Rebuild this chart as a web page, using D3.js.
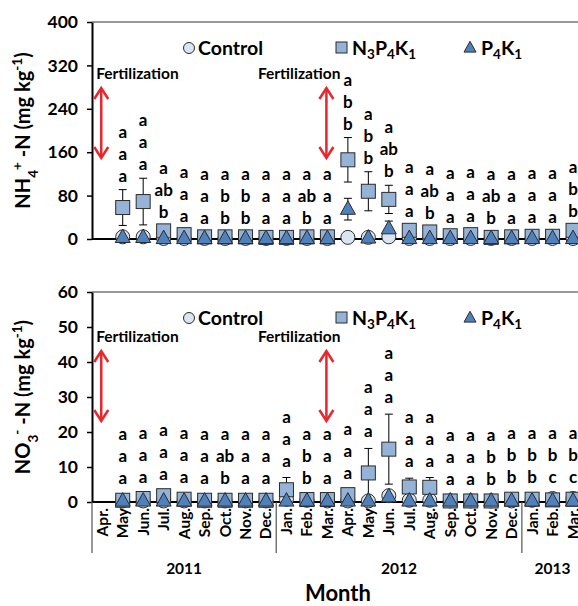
<!DOCTYPE html>
<html>
<head>
<meta charset="utf-8">
<script src="https://cdn.jsdelivr.net/npm/d3@7"></script>
<style>
  body { margin: 0; background: #fff; }
  text { font-family: Lato, "Open Sans", sans-serif; font-weight: 700; fill: #000; }
</style>
</head>
<body>
<svg width="578" height="606"></svg>
<script>
// Months from Apr. 2011 to Mar. 2013
const months = ["Apr.", "May", "Jun.", "Jul.", "Aug.", "Sep.", "Oct.", "Nov.", "Dec.",
  "Jan.", "Feb.", "Mar.", "Apr.", "May", "Jun.", "Jul.", "Aug.", "Sep.", "Oct.", "Nov.", "Dec.",
  "Jan.", "Feb.", "Mar."];
const years = ["2011", "2012", "2013"];
const yearFirst = [0, 9, 21];
const yearLast = [8, 20, 23];
const fertMonths = [0, 11];

// NH4+-N (mg/kg)
const nh4Control = [null, 4, 4, 1, 1, 1, 1, 1, 1, 1, 1, 1, 3, 3, 4, 1, 1, 1, 1, 1, 1, 1, 1, 1];
const nh4N = [null, 58, 69, 15, 8, 4, 4, 4, 3, 3, 4, 4, 146, 88, 73, 16, 13, 6, 8, 3, 4, 5, 5, 16];
const nh4NErr = [null, 33, 43, 0, 0, 0, 0, 0, 0, 0, 0, 0, 41, 36, 26, 0, 0, 0, 0, 0, 0, 0, 0, 0];
const nh4P = [null, 3, 3, 1, 1, 1, 1, 1, 1, 1, 1, 1, 55, 2, 19, 1, 1, 1, 1, 1, 1, 1, 1, 1];
const nh4PErr = [null, 0, 0, 0, 0, 0, 0, 0, 0, 0, 0, 0, 20, 0, 14, 0, 0, 0, 0, 0, 0, 0, 0, 0];
const nh4Letters = ["", "a a a", "a a a", "a ab b", "a a a", "a a a", "a b b", "a b b", "a a a",
  "a a a", "a ab b", "a a a", "a b b", "a b b", "a ab b", "a a a", "a ab b", "a a a", "a a a",
  "a ab b", "a a a", "a a a", "a a a", "a b b"];

// NO3--N (mg/kg)
const no3Control = [null, 0.3, 0.3, 0.3, 0.3, 0.3, 0.3, 0.3, 0.3, 0.8, 0.5, 0.3, 0.3, 0.3, 1.8, 0.5, 0.5, 0.3, 0.3, 0.3, 0.3, 0.5, 1.0, 1.0];
const no3N = [null, 0.5, 1, 1.8, 0.8, 0.5, 0.5, 0.5, 0.5, 3.5, 0.7, 0.7, 2.1, 8.3, 15.1, 4.3, 4.2, 0.3, 0.3, 0.3, 0.8, 0.8, 0.6, 0.8];
const no3NErr = [null, 0, 0, 0, 0, 0, 0, 0, 0, 3.5, 0, 0, 0, 7, 10, 2.5, 2.8, 0, 0, 0, 0, 0, 0, 0];
const no3P = [null, 0.3, 0.3, 0.3, 0.3, 0.3, 0.3, 0.3, 0.3, 0.3, 0.3, 0.3, 0.3, 0.3, 1.5, 0.3, 0.3, 0.3, 0.3, 0.3, 0.3, 0.3, 0.3, 0.3];
const no3PErr = [null, 0, 0, 0, 0, 0, 0, 0, 0, 0, 0, 0, 0, 0, 0, 0, 0, 0, 0, 0, 0, 0, 0, 0];
const no3Letters = ["", "a a a", "a a a", "a a a", "a a a", "a a a", "a ab b", "a a a", "a a a",
  "a a a", "a b b", "a a a", "a a a", "a a a", "a a a", "a a a", "a a a", "a a a", "a a a",
  "a b b", "a b b", "a b b", "a b c", "a b c"];

const svg = d3.select("svg");
const left = 92;
const step = 20.47;

const x = d3.scaleBand()
  .domain(d3.range(months.length))
  .range([left, left + step * months.length]);
const cx = i => x(i) + x.bandwidth() / 2;

const colors = {
  circle: "#dbe5f1", square: "#95b3d7", triangle: "#4f81bd",
  stroke: "#2b2b2b", red: "#e8262d"
};

function triPath(size) {
  const h = size * 0.9;
  return `M0,${-h * 0.62}L${size / 2},${h * 0.38}L${-size / 2},${h * 0.38}Z`;
}

function drawPanel(p) {
  const y = d3.scaleLinear().domain([0, p.max]).range([p.y0, p.y1]);
  const g = svg.append("g");

  // top border
  g.append("line")
    .attr("x1", left).attr("x2", 578)
    .attr("y1", p.y1).attr("y2", p.y1)
    .attr("stroke", "#333").attr("stroke-width", 1.2);

  // y axis
  const yAxis = g.append("g")
    .attr("transform", `translate(${left},0)`)
    .call(d3.axisLeft(y).tickValues(d3.range(0, p.max + 1, p.step)).tickSize(5).tickSizeOuter(0).tickPadding(9));
  yAxis.select(".domain").attr("stroke", "#000").attr("stroke-width", 2);
  yAxis.selectAll(".tick line").attr("stroke", "#000").attr("stroke-width", 1.5);
  yAxis.selectAll(".tick text")
    .style("font-size", "17.5px").style("font-family", "Lato, sans-serif").style("font-weight", 700);

  // x axis line
  g.append("line")
    .attr("x1", left).attr("x2", 578)
    .attr("y1", p.y0).attr("y2", p.y0)
    .attr("stroke", "#000").attr("stroke-width", 2);

  // y label
  const lab = g.append("text")
    .attr("transform", `translate(30,${(p.y0 + p.y1) / 2}) rotate(-90)`)
    .attr("text-anchor", "middle")
    .style("font-size", "20px");
  p.label.forEach(part => {
    const t = lab.append("tspan").text(part[0]);
    if (part[1]) t.attr("baseline-shift", part[1]).style("font-size", "13.5px");
  });

  // fertilization arrows
  fertMonths.forEach((m, k) => {
    const ax = cx(m) - 1;
    const ya = p.y0 - 151, yb = p.y0 - 81;
    g.append("text")
      .attr("x", k === 0 ? ax - 5 : ax + 14)
      .attr("y", p.y0 - 160)
      .attr("text-anchor", k === 0 ? "start" : "end")
      .style("font-size", "15.5px")
      .text("Fertilization");
    g.append("line")
      .attr("x1", ax).attr("x2", ax).attr("y1", ya + 1).attr("y2", yb - 1)
      .attr("stroke", colors.red).attr("stroke-width", 2.5);
    [[ya, 1], [yb, -1]].forEach(([yy, d]) => {
      g.append("path")
        .attr("d", `M${ax - 7},${yy + d * 11}L${ax},${yy}L${ax + 7},${yy + d * 11}`)
        .attr("fill", "none").attr("stroke", colors.red).attr("stroke-width", 2.5);
    });
  });

  // legend
  const ly = p.y1 + 26;
  g.append("circle").attr("cx", 189).attr("cy", ly).attr("r", 5.5)
    .attr("fill", colors.circle).attr("stroke", colors.stroke);
  g.append("text").attr("x", 198).attr("y", ly + 6.5).style("font-size", "19.5px").text("Control");
  g.append("rect").attr("x", 336).attr("y", ly - 6).attr("width", 11).attr("height", 11)
    .attr("fill", colors.square).attr("stroke", colors.stroke);
  const t2 = g.append("text").attr("x", 352).attr("y", ly + 6.5).style("font-size", "19.5px");
  [["N"], ["3", "sub"], ["P"], ["4", "sub"], ["K"], ["1", "sub"]].forEach(part => {
    const t = t2.append("tspan").text(part[0]);
    if (part[1]) t.attr("baseline-shift", "-4").style("font-size", "13.5px");
  });
  g.append("path").attr("d", triPath(12)).attr("transform", `translate(470,${ly})`)
    .attr("fill", colors.triangle).attr("stroke", colors.stroke);
  const t3 = g.append("text").attr("x", 481).attr("y", ly + 6.5).style("font-size", "19.5px");
  [["P"], ["4", "sub"], ["K"], ["1", "sub"]].forEach(part => {
    const t = t3.append("tspan").text(part[0]);
    if (part[1]) t.attr("baseline-shift", "-4").style("font-size", "13.5px");
  });

  const idx = d3.range(months.length).filter(i => p.n[i] != null);

  // error bars
  function errBars(vals, errs) {
    const e = idx.filter(i => errs[i] > 0);
    const eg = g.append("g").attr("stroke", "#000").attr("stroke-width", 1);
    eg.selectAll("line.v").data(e).join("line")
      .attr("x1", cx).attr("x2", cx)
      .attr("y1", i => y(vals[i] + errs[i])).attr("y2", i => y(Math.max(0, vals[i] - errs[i])));
    eg.selectAll("line.t").data(e).join("line")
      .attr("x1", i => cx(i) - 4).attr("x2", i => cx(i) + 4)
      .attr("y1", i => y(vals[i] + errs[i])).attr("y2", i => y(vals[i] + errs[i]));
    eg.selectAll("line.b").data(e.filter(i => vals[i] - errs[i] > 0)).join("line")
      .attr("x1", i => cx(i) - 4).attr("x2", i => cx(i) + 4)
      .attr("y1", i => y(vals[i] - errs[i])).attr("y2", i => y(vals[i] - errs[i]));
  }
  errBars(p.n, p.nErr);
  errBars(p.p, p.pErr);

  // markers
  g.append("g").selectAll("circle").data(idx).join("circle")
    .attr("cx", cx).attr("cy", i => y(p.c[i])).attr("r", 7)
    .attr("fill", colors.circle).attr("stroke", colors.stroke).attr("stroke-width", 1);
  g.append("g").selectAll("rect").data(idx).join("rect")
    .attr("x", i => cx(i) - 7).attr("y", i => y(p.n[i]) - 7)
    .attr("width", 14).attr("height", 14)
    .attr("fill", colors.square).attr("stroke", colors.stroke).attr("stroke-width", 1);
  g.append("g").selectAll("path").data(idx).join("path")
    .attr("d", triPath(15))
    .attr("transform", i => `translate(${cx(i)},${y(p.p[i])})`)
    .attr("fill", colors.triangle).attr("stroke", colors.stroke).attr("stroke-width", 1);

  // significance letters
  idx.forEach(i => {
    const topPx = Math.min(
      y(p.n[i] + (p.nErr[i] || 0)), y(p.n[i]) - 5,
      y(p.p[i] + (p.pErr[i] || 0)), y(p.c[i]) - 5);
    const base = Math.min(topPx - p.gap, p.y0 - p.cap);
    const ls = p.letters[i].split(" ");
    ls.forEach((l, k) => {
      g.append("text")
        .attr("x", cx(i)).attr("y", base - (ls.length - 1 - k) * 22)
        .attr("text-anchor", "middle")
        .style("font-size", "17px")
        .text(l);
    });
  });

  return y;
}

drawPanel({
  y0: 239, y1: 22, max: 400, step: 80, gap: 8, cap: 13,
  c: nh4Control, n: nh4N, nErr: nh4NErr, p: nh4P, pErr: nh4PErr, letters: nh4Letters,
  label: [["NH"], ["4", "sub"], ["+", "super"], [" -N (mg kg"], ["-1", "super"], [")"]]
});

drawPanel({
  y0: 502, y1: 292, max: 60, step: 10, gap: 11, cap: 15,
  c: no3Control, n: no3N, nErr: no3NErr, p: no3P, pErr: no3PErr, letters: no3Letters,
  label: [["NO"], ["3", "sub"], ["-", "super"], [" -N (mg kg"], ["-1", "super"], [")"]]
});

// month tick labels
svg.append("g").selectAll("text").data(d3.range(months.length)).join("text")
  .attr("transform", i => `translate(${cx(i) + 5.5},508) rotate(-90)`)
  .attr("text-anchor", "end")
  .style("font-size", "15.5px")
  .text(i => months[i]);

// year separators
const seps = [left, x(yearFirst[1]), x(yearFirst[2])];
svg.append("g").selectAll("line").data(seps).join("line")
  .attr("x1", d => d).attr("x2", d => d)
  .attr("y1", 502).attr("y2", 553)
  .attr("stroke", "#555").attr("stroke-width", 1.2);

// year labels
svg.append("g").selectAll("text").data(years).join("text")
  .attr("x", (d, k) => (x(yearFirst[k]) + Math.min(578 + 6, x(yearLast[k]) + x.bandwidth())) / 2)
  .attr("y", 574)
  .attr("text-anchor", "middle")
  .style("font-size", "15.5px")
  .text(d => d);

svg.append("text")
  .attr("x", 338).attr("y", 601)
  .attr("text-anchor", "middle")
  .style("font-size", "22px")
  .text("Month");
</script>
</body>
</html>
